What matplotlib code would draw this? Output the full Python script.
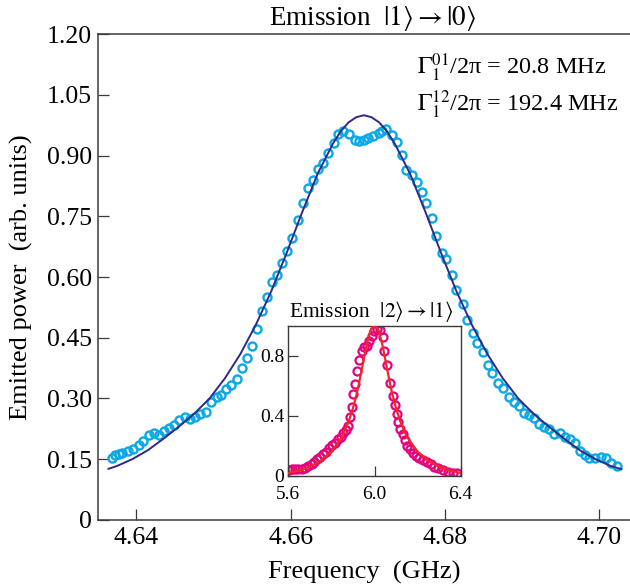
import matplotlib
matplotlib.use('Agg')
import matplotlib.pyplot as plt

plt.rcParams['font.family'] = ['Liberation Serif', 'DejaVu Serif']
plt.rcParams['mathtext.fontset'] = 'stix'

# ---------------- main data: emission |1> -> |0> ----------------
freq_main = [4.6369, 4.6372, 4.6377, 4.6382, 4.6389, 4.6396, 4.6403, 4.6409, 4.6416, 4.6423,
             4.6429, 4.6436, 4.6443, 4.6449, 4.6456, 4.6463, 4.6470, 4.6476, 4.6483, 4.6490,
             4.6497, 4.6504, 4.6510, 4.6516, 4.6523, 4.6530, 4.6537, 4.6543, 4.6550, 4.6557,
             4.6563, 4.6570, 4.6576, 4.6582, 4.6589, 4.6595, 4.6602, 4.6609, 4.6616, 4.6623,
             4.6629, 4.6635, 4.6642, 4.6649, 4.6656, 4.6662, 4.6668, 4.6676, 4.6683, 4.6689,
             4.6695, 4.6701, 4.6707, 4.6714, 4.6719, 4.6724, 4.6731, 4.6738, 4.6744, 4.6750,
             4.6757, 4.6764, 4.6770, 4.6776, 4.6783, 4.6789, 4.6796, 4.6802, 4.6809, 4.6815,
             4.6823, 4.6829, 4.6836, 4.6842, 4.6849, 4.6856, 4.6861, 4.6869, 4.6876, 4.6883,
             4.6890, 4.6896, 4.6903, 4.6909, 4.6916, 4.6922, 4.6929, 4.6935, 4.6941, 4.6949,
             4.6956, 4.6962, 4.6969, 4.6975, 4.6982, 4.6987, 4.6995, 4.7003, 4.7009, 4.7016,
             4.7023]
power_main = [0.153, 0.159, 0.163, 0.165, 0.169, 0.175, 0.186, 0.194, 0.210, 0.214,
              0.210, 0.219, 0.228, 0.234, 0.247, 0.253, 0.250, 0.255, 0.261, 0.267,
              0.290, 0.304, 0.308, 0.324, 0.332, 0.349, 0.374, 0.400, 0.430, 0.471,
              0.515, 0.551, 0.587, 0.605, 0.634, 0.664, 0.696, 0.741, 0.784, 0.819,
              0.841, 0.867, 0.881, 0.906, 0.932, 0.953, 0.961, 0.953, 0.938, 0.937,
              0.938, 0.943, 0.949, 0.957, 0.962, 0.965, 0.951, 0.933, 0.901, 0.864,
              0.852, 0.835, 0.811, 0.782, 0.747, 0.701, 0.660, 0.644, 0.605, 0.568,
              0.533, 0.495, 0.461, 0.438, 0.414, 0.383, 0.364, 0.339, 0.325, 0.304,
              0.292, 0.281, 0.263, 0.259, 0.251, 0.238, 0.230, 0.224, 0.211, 0.215,
              0.205, 0.199, 0.189, 0.171, 0.160, 0.153, 0.152, 0.156, 0.152, 0.141,
              0.134]

fit_main_x = [4.6364, 4.6375, 4.6395, 4.6415, 4.6435, 4.6455, 4.6475, 4.6495, 4.6515, 4.6535,
              4.6555, 4.6575, 4.6595, 4.6615, 4.6635, 4.6655, 4.6665, 4.6675, 4.6685, 4.6695,
              4.6705, 4.6715, 4.6725, 4.6735, 4.6755, 4.6775, 4.6795, 4.6815, 4.6835, 4.6855,
              4.6875, 4.6895, 4.6915, 4.6935, 4.6955, 4.6975, 4.6995, 4.7015, 4.7029]
fit_main_y = [0.126, 0.133, 0.150, 0.172, 0.200, 0.230, 0.262, 0.300, 0.350, 0.410,
              0.482, 0.565, 0.660, 0.760, 0.855, 0.930, 0.960, 0.982, 0.995, 1.000,
              0.995, 0.982, 0.960, 0.930, 0.855, 0.760, 0.660, 0.565, 0.482, 0.410,
              0.350, 0.300, 0.262, 0.230, 0.200, 0.172, 0.150, 0.133, 0.125]

# ---------------- inset data: emission |2> -> |1> ----------------
freq_inset = [5.603, 5.616, 5.631, 5.647, 5.662, 5.678, 5.693, 5.708, 5.721, 5.735,
              5.747, 5.763, 5.775, 5.790, 5.801, 5.817, 5.832, 5.843, 5.855, 5.868,
              5.879, 5.886, 5.894, 5.902, 5.910, 5.920, 5.930, 5.940, 5.951, 5.964,
              5.976, 5.987, 5.998, 6.010, 6.026, 6.038, 6.044, 6.057, 6.072, 6.085,
              6.095, 6.103, 6.111, 6.118, 6.131, 6.142, 6.152, 6.165, 6.177, 6.193,
              6.208, 6.223, 6.242, 6.260, 6.276, 6.296, 6.319, 6.343, 6.363, 6.381]
power_inset = [0.038, 0.042, 0.042, 0.042, 0.046, 0.053, 0.064, 0.077, 0.093, 0.109,
               0.126, 0.144, 0.160, 0.182, 0.204, 0.219, 0.242, 0.259, 0.282, 0.304,
               0.330, 0.392, 0.458, 0.546, 0.613, 0.701, 0.768, 0.834, 0.856, 0.867,
               0.900, 0.934, 0.962, 0.978, 0.971, 0.923, 0.834, 0.735, 0.617, 0.529,
               0.469, 0.409, 0.359, 0.314, 0.277, 0.237, 0.197, 0.175, 0.148, 0.133,
               0.115, 0.104, 0.093, 0.077, 0.060, 0.049, 0.038, 0.027, 0.020, 0.016]

fit_inset_x = [5.60, 5.65, 5.70, 5.75, 5.80, 5.85, 5.88, 5.90, 5.92, 5.94, 5.96, 5.97, 5.98, 5.99,
               6.00, 6.01, 6.02, 6.03, 6.04, 6.06, 6.08, 6.10, 6.12, 6.15, 6.20, 6.25, 6.30,
               6.35, 6.40]
fit_inset_y = [0.018, 0.035, 0.060, 0.100, 0.160, 0.260, 0.360, 0.450, 0.560, 0.700, 0.850, 0.910,
               0.960, 0.990, 1.000, 0.990, 0.960, 0.910, 0.850, 0.700, 0.560, 0.450, 0.360,
               0.260, 0.160, 0.100, 0.060, 0.035, 0.018]

main_xticks = [4.64, 4.66, 4.68, 4.70]
main_xticklabels = ['4.64', '4.66', '4.68', '4.70']
main_yticks = [0, 0.15, 0.30, 0.45, 0.60, 0.75, 0.90, 1.05, 1.20]
main_yticklabels = ['0', '0.15', '0.30', '0.45', '0.60', '0.75', '0.90', '1.05', '1.20']
inset_xticks = [5.6, 6.0, 6.4]
inset_xticklabels = ['5.6', '6.0', '6.4']
inset_yticks = [0, 0.4, 0.8]
inset_yticklabels = ['0', '0.4', '0.8']

CYAN = '#0AA8E6'
NAVY = '#2D2B86'
MAGENTA = '#E5007F'
RED = '#EC2A26'
SPINE = '#3a3a3a'

fig = plt.figure(figsize=(6.3, 5.88), dpi=100)
ax = fig.add_axes([0.15508, 0.11599, 0.84492, 0.82568])

ax.plot(freq_main, power_main, linestyle='none', marker='o', markersize=5.8,
        markerfacecolor='none', markeredgecolor=CYAN, markeredgewidth=1.7, zorder=2)
ax.plot(fit_main_x, fit_main_y, color=NAVY, linewidth=1.4, zorder=3)

ax.set_xlim(4.635, 4.704)
ax.set_ylim(0, 1.2)
ax.set_xticks(main_xticks)
ax.set_xticklabels(main_xticklabels)
ax.set_yticks(main_yticks)
ax.set_yticklabels(main_yticklabels)
ax.tick_params(direction='in', length=8, width=0.9, color=SPINE, labelsize=18.5, pad=5)
ax.tick_params(axis='y', pad=4)
ax.spines['right'].set_visible(False)
for s in ['left', 'bottom', 'top']:
    ax.spines[s].set_color(SPINE)
    ax.spines[s].set_linewidth(1.1)

ax.set_xlabel('Frequency  (GHz)', fontsize=19)
ax.xaxis.set_label_coords(0.5, -0.085)
ax.set_ylabel('Emitted power  (arb. units)', fontsize=19)
ax.yaxis.set_label_coords(-0.122, 0.5)

ax.text(0.517, 1.019, r'Emission  $|1\rangle \rightarrow |0\rangle$', transform=ax.transAxes,
        ha='center', va='baseline', fontsize=19.5)
ax.text(0.599, 0.9176, r'$\Gamma_1^{01}$/2π = 20.8 MHz', transform=ax.transAxes,
        ha='left', va='baseline', fontsize=17.5)
ax.text(0.599, 0.8406, r'$\Gamma_1^{12}$/2π = 192.4 MHz', transform=ax.transAxes,
        ha='left', va='baseline', fontsize=17.5)

# ---------------- inset ----------------
ins = fig.add_axes([0.45762, 0.19099, 0.27365, 0.2551])
ins.plot(freq_inset, power_inset, linestyle='none', marker='o', markersize=5.8,
         markerfacecolor='none', markeredgecolor=MAGENTA, markeredgewidth=1.6, zorder=2)
ins.plot(fit_inset_x, fit_inset_y, color=RED, linewidth=1.6, zorder=3)
ins.set_xlim(5.6, 6.4)
ins.set_ylim(0, 1.0)
ins.set_xticks(inset_xticks)
ins.set_xticklabels(inset_xticklabels)
ins.set_yticks(inset_yticks)
ins.set_yticklabels(inset_yticklabels)
ins.tick_params(direction='in', length=7, width=0.9, color=SPINE, labelsize=14, pad=4)
ins.tick_params(axis='x', pad=7.5)
ins.tick_params(axis='y', pad=3)
for s in ins.spines.values():
    s.set_color(SPINE)
    s.set_linewidth(1.0)
ins.text(0.483, 1.0547, r'Emission  $|2\rangle \rightarrow |1\rangle$', transform=ins.transAxes,
         ha='center', va='baseline', fontsize=15.5)

fig.savefig('out.png', dpi=100)
